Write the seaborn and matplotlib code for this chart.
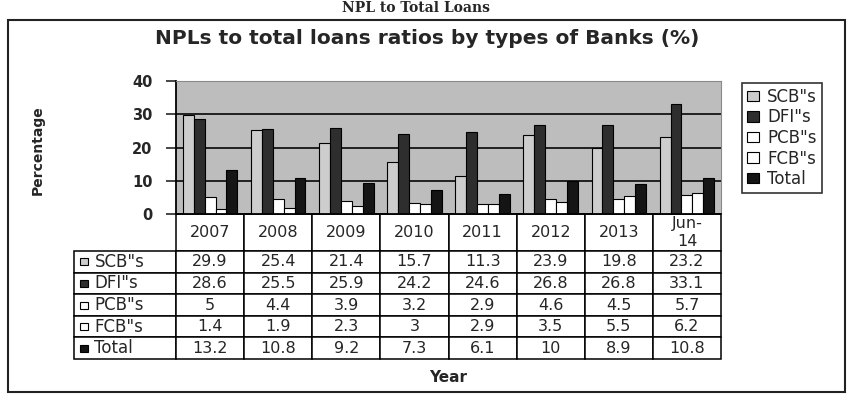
import numpy as np
import pandas as pd
import matplotlib
matplotlib.use("Agg")
import matplotlib.pyplot as plt
import seaborn as sns
from matplotlib.patches import Patch, Rectangle

# 数据 (读自原图的表格)
years = ["2007", "2008", "2009", "2010", "2011", "2012", "2013", "Jun-14"]
header_labels = ["2007", "2008", "2009", "2010", "2011", "2012", "2013", "Jun-\n14"]
banks = ['SCB"s', 'DFI"s', 'PCB"s', 'FCB"s', "Total"]
scb = [29.9, 25.4, 21.4, 15.7, 11.3, 23.9, 19.8, 23.2]
dfi = [28.6, 25.5, 25.9, 24.2, 24.6, 26.8, 26.8, 33.1]
pcb = [5, 4.4, 3.9, 3.2, 2.9, 4.6, 4.5, 5.7]
fcb = [1.4, 1.9, 2.3, 3, 2.9, 3.5, 5.5, 6.2]
total = [13.2, 10.8, 9.2, 7.3, 6.1, 10, 8.9, 10.8]

colors = ["#cdcdcd", "#2e2e2e", "#ffffff", "#ffffff", "#151515"]


def build_frame():
    series = [scb, dfi, pcb, fcb, total]
    rows = []
    for bank, vals in zip(banks, series):
        for yr, v in zip(years, vals):
            rows.append({"year": yr, "bank": bank, "value": v})
    return pd.DataFrame(rows), series


def plot_chart(df, series):
    sns.set_style("white")
    plt.rcParams["font.family"] = ["DejaVu Sans"]

    fig = plt.figure(figsize=(8.48, 3.96), dpi=100)
    ax = fig.add_axes([176 / 848, 182 / 396, 545 / 848, 133 / 396])
    ax.set_facecolor("#bdbdbd")

    sns.barplot(data=df, x="year", y="value", hue="bank", order=years,
                hue_order=banks, palette=colors, width=0.8, gap=0,
                edgecolor="black", linewidth=0.8, legend=False, ax=ax)

    ax.set_ylim(0, 40)
    ax.set_yticks([0, 10, 20, 30, 40])
    ax.set_axisbelow(True)
    ax.yaxis.grid(True, color="#141414", linewidth=1.3)
    ax.tick_params(axis="x", bottom=False, labelbottom=False)
    ax.tick_params(axis="y", left=True, direction="out", length=7,
                   width=1.2, labelsize=10.5, pad=10)
    for lbl in ax.get_yticklabels():
        lbl.set_fontweight("bold")
    for s in ["left", "bottom"]:
        ax.spines[s].set_color("black")
        ax.spines[s].set_linewidth(1.3)
    for s in ["top", "right"]:
        ax.spines[s].set_color("#8a8a8a")
        ax.spines[s].set_linewidth(0.8)

    ax.set_ylabel("Percentage", fontweight="bold", fontsize=10,
                  family=["Liberation Sans Narrow", "DejaVu Sans"])
    ax.yaxis.set_label_coords(-0.24, 0.48)
    ax.set_xlabel("Year", fontweight="bold", fontsize=11)
    ax.xaxis.set_label_coords(0.5, -1.17)

    # 数据表
    cell_text = [[""] + [f"{v:g}" for v in vals] for vals in series]
    tbl = ax.table(cellText=cell_text, colLabels=[""] + header_labels,
                   colWidths=[102] + [68.1] * len(years), cellLoc="center",
                   bbox=[-102 / 545, -145 / 133, 647 / 545, 145 / 133])
    tbl.auto_set_font_size(False)
    tbl.set_fontsize(11.5)
    for (r, c), cell in tbl.get_celld().items():
        cell.set_edgecolor("black")
        cell.set_linewidth(1.1)
        cell.set_facecolor("white")
        cell.set_height(0.37 if r == 0 else 0.216)
        if r == 0 and c == 0:
            cell.set_visible(False)
        if r > 0 and c == 0:
            txt = cell.get_text()
            txt.set_text(banks[r - 1])
            txt.set_fontsize(12)
            txt.set_horizontalalignment("left")
            cell.PAD = 0.2

    # 表格行标签前的小方块
    for i, col in enumerate(colors):
        yc = -(37 + 21.6 * (i + 0.5)) / 133
        ax.add_patch(Rectangle((-96 / 545, yc - 3.5 / 133), 8 / 545, 7 / 133,
                               transform=ax.transAxes, clip_on=False,
                               facecolor=col, edgecolor="black", linewidth=0.8))

    handles = [Patch(facecolor=c, edgecolor="black", linewidth=0.8, label=b)
               for c, b in zip(colors, banks)]
    leg = ax.legend(handles=handles, loc="upper left",
                    bbox_to_anchor=(742 / 848, 1 - 83 / 396),
                    bbox_transform=fig.transFigure, fontsize=12,
                    frameon=True, fancybox=False, handlelength=0.7,
                    handleheight=0.6, handletextpad=0.5, labelspacing=0.15,
                    borderpad=0.3, borderaxespad=0)
    leg.get_frame().set_edgecolor("black")
    leg.get_frame().set_linewidth(1.2)

    fig.text(427 / 848, 1 - 39 / 396,
             "NPLs to total loans ratios by types of Banks (%)",
             ha="center", va="center", fontsize=14.5, fontweight="bold")
    fig.text(0.49, 1 - 12 / 396, "NPL to Total Loans", ha="center",
             va="baseline", fontsize=10, fontweight="bold",
             family="DejaVu Serif")

    fig.add_artist(Rectangle((8 / 848, 4 / 396), 837 / 848, 372 / 396,
                             transform=fig.transFigure, fill=False,
                             edgecolor="#222222", linewidth=1.5))

    fig.savefig("out.png", dpi=100)


def main():
    df, series = build_frame()
    plot_chart(df, series)


if __name__ == "__main__":
    main()
